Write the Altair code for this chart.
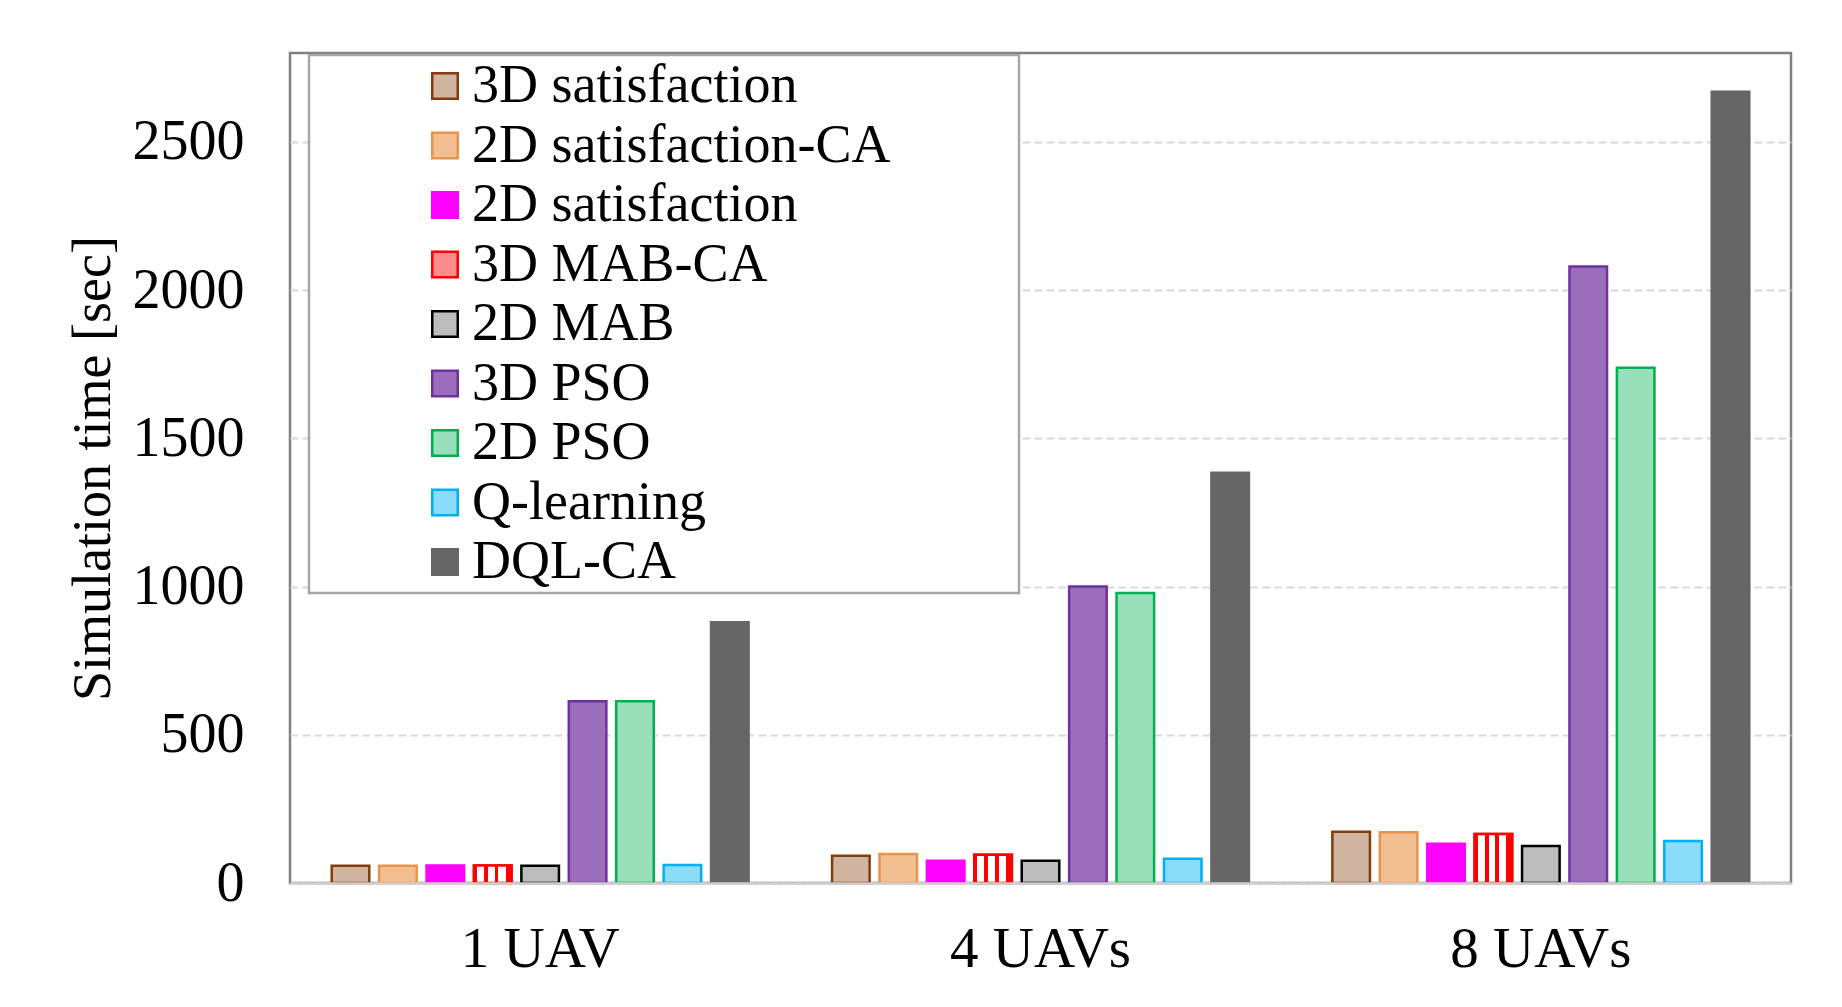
import altair as alt
import pandas as pd

# ---- data ----
groups = ["1 UAV", "4 UAVs", "8 UAVs"]
series = ["3D satisfaction", "2D satisfaction-CA", "2D satisfaction", "3D MAB-CA",
          "2D MAB", "3D PSO", "2D PSO", "Q-learning", "DQL-CA"]

sat3d = [58, 92, 173]
sat2d_ca = [58, 98, 171]
sat2d = [59, 75, 132]
mab3d_ca = [59, 95, 165]
mab2d = [58, 75, 125]
pso3d = [613, 1000, 2080]
pso2d = [613, 978, 1738]
qlearn = [61, 82, 142]
dql_ca = [880, 1384, 2669]

y_ticks = [0, 500, 1000, 1500, 2000, 2500]

# ---- styles ----
fills = ["#D0B5A3", "#F2BF92", "#FF00FF", "#FF8C8C", "#BDBDBD",
         "#9B6EBC", "#99DFB9", "#8CDBF8", "#666666"]
strokes = ["#843C0C", "#E9944A", "#FF00FF", "#FF0000", "#000000",
           "#7030A0", "#00B050", "#00B0F0", "#666666"]

FONT = "Liberation Serif"

all_values = [sat3d, sat2d_ca, sat2d, mab3d_ca, mab2d, pso3d, pso2d, qlearn, dql_ca]
rows = []
for s, vals in zip(series, all_values):
    for g, v in zip(groups, vals):
        rows.append({"group": g, "series": s, "value": v})
df = pd.DataFrame(rows)

x_enc = alt.X(
    "group:N", sort=groups,
    scale=alt.Scale(paddingInner=0, paddingOuter=0),
    axis=alt.Axis(title=None, labelAngle=0, ticks=False, domain=True,
                  domainColor="#D0D0D0", domainWidth=2.5, labelPadding=38,
                  labelFontSize=57, labelFont=FONT, labelColor="black",
                  labelLimit=1000, grid=False, zindex=1),
)
xo_enc = alt.XOffset(
    "series:N", sort=series,
    scale=alt.Scale(domain=series, paddingInner=0.208, paddingOuter=0.88),
)
y_enc = alt.Y(
    "value:Q",
    scale=alt.Scale(domain=[0, 2800], nice=False),
    axis=alt.Axis(title="Simulation time [sec]", values=y_ticks, format="d",
                  ticks=False, domain=False, grid=True, gridColor="#D9D9D9",
                  gridDash=[8, 4], gridWidth=2, labelPadding=46, labelFontSize=56,
                  labelFont=FONT, labelColor="black", labelLimit=1000,
                  titleFont=FONT, titleFontSize=54, titleFontWeight="normal",
                  titleColor="black", titlePadding=12),
)

legend = alt.Legend(
    title="\u00a0", titleOrient="right", titlePadding=125, titleFontSize=2,
    orient="none", legendX=19, legendY=2, direction="vertical",
    symbolType="square", symbolSize=650, symbolStrokeWidth=2.5,
    symbolOffset=105, labelOffset=0, labelFont=FONT, labelFontSize=54,
    labelColor="black", labelLimit=1000, padding=4, rowPadding=5.5,
    strokeColor="#A6A6A6", fillColor="white",
)

base = alt.Chart(df).mark_bar(strokeWidth=2.5).encode(
    x=x_enc,
    xOffset=xo_enc,
    y=y_enc,
    fill=alt.Fill("series:N", sort=series,
                  scale=alt.Scale(domain=series, range=fills), legend=legend),
    stroke=alt.Stroke("series:N", sort=series,
                      scale=alt.Scale(domain=series, range=strokes), legend=legend),
)

red, white = "#FF0000", "#FFFFFF"
stripe_edges = [0.0, 0.08, 0.27, 0.37, 0.55, 0.65, 0.84, 1.0]
stops = []
for i in range(len(stripe_edges) - 1):
    col = red if i % 2 == 0 else white
    stops.append(alt.GradientStop(offset=stripe_edges[i], color=col))
    stops.append(alt.GradientStop(offset=stripe_edges[i + 1], color=col))
vstripes = alt.Gradient(gradient="linear", x1=0, x2=1, y1=0, y2=0, stops=stops)

mab_layer = alt.Chart(df).transform_filter(
    alt.datum.series == "3D MAB-CA"
).mark_bar(fill=vstripes, stroke="#FF0000", strokeWidth=2.5).encode(
    x=x_enc, xOffset=xo_enc, y=y_enc,
)

chart = alt.layer(base, mab_layer).properties(
    width=1501, height=830,
    autosize=alt.AutoSizeParams(type="none"),
    padding={"left": 282, "top": 45, "right": 43, "bottom": 116},
).configure(font=FONT).configure_view(
    stroke="#808080", strokeWidth=2.5
).configure_legend(strokeWidth=2.5)

chart.save("out.html", embed_options={"renderer": "svg", "actions": False})
